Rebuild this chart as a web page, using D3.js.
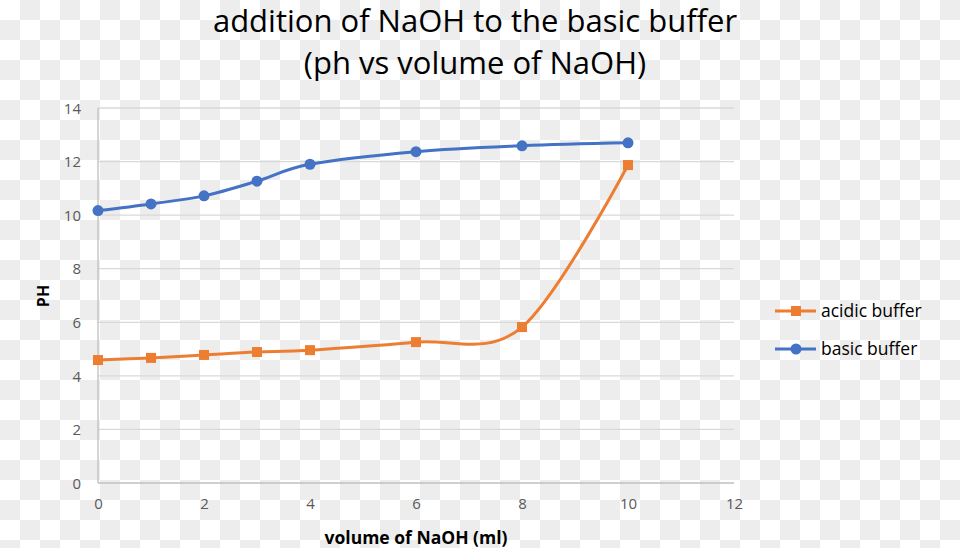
<!DOCTYPE html>
<html><head><meta charset="utf-8">
<script src="https://cdn.jsdelivr.net/npm/d3@7"></script>
<style>
body{margin:0;background-color:#ffffff;
background-image:conic-gradient(#ededed 0 25%, #ffffff 0 50%, #ededed 0 75%, #ffffff 0);
background-size:40px 40px;background-position:0 0;}
svg{display:block;}
</style>
</head><body>
<svg id="c" width="960" height="548"></svg>
<script>
const volumes = [0, 1, 2, 3, 4, 6, 8, 10];
const acidicBuffer = [4.59, 4.67, 4.78, 4.89, 4.96, 5.26, 5.82, 11.87];
const basicBuffer = [10.17, 10.42, 10.72, 11.27, 11.9, 12.37, 12.59, 12.7];
const xTicks = [0, 2, 4, 6, 8, 10, 12];
const yTicks = [0, 2, 4, 6, 8, 10, 12, 14];
const seriesNames = ["acidic buffer", "basic buffer"];
const colors = ["#ED7D31", "#4472C4"];

const W = 960, H = 548;
const svg = d3.select("#c");
const font = "'Open Sans', sans-serif";

const x = d3.scaleLinear().domain([0,12]).range([98,734]);
const y = d3.scaleLinear().domain([0,14]).range([483,108]);

// gridlines
svg.append("g").selectAll("line").data(yTicks.filter(d=>d>0)).join("line")
  .attr("x1",x(0)).attr("x2",x(12)).attr("y1",d=>y(d)).attr("y2",d=>y(d))
  .attr("stroke","#d9d9d9").attr("stroke-width",1.3);

// axes lines
svg.append("line").attr("x1",x(0)).attr("x2",x(12)).attr("y1",y(0)).attr("y2",y(0)).attr("stroke","#bfbfbf").attr("stroke-width",1.3);
svg.append("line").attr("x1",x(0)).attr("x2",x(0)).attr("y1",y(0)).attr("y2",y(14)).attr("stroke","#bfbfbf").attr("stroke-width",1.3);

// tick labels
const xa = d3.axisBottom(x).tickValues(xTicks).tickSize(0).tickPadding(0);
const gx = svg.append("g").attr("transform",`translate(0,${y(0)+17})`).call(xa);
gx.select(".domain").remove();
gx.selectAll("text").attr("font-family",font).attr("font-size",15).attr("fill","#595959").attr("dy","0.6em");

const ya = d3.axisLeft(y).tickValues(yTicks).tickSize(0).tickPadding(0);
const gy = svg.append("g").attr("transform",`translate(${x(0)-17},0)`).call(ya);
gy.select(".domain").remove();
gy.selectAll("text").attr("font-family",font).attr("font-size",15).attr("fill","#595959").attr("dy","0.35em");

// lines
const allSeries = [acidicBuffer, basicBuffer];
const line = d3.line().x((d,i)=>x(volumes[i])).y(d=>y(d)).curve(d3.curveCardinal.tension(0));
allSeries.forEach((s,k)=>{
  svg.append("path").attr("d",line(s)).attr("fill","none").attr("stroke",colors[k]).attr("stroke-width",3).attr("stroke-linecap","round");
});
// markers
svg.append("g").selectAll("rect").data(acidicBuffer).join("rect")
  .attr("x",(d,i)=>x(volumes[i])-5).attr("y",d=>y(d)-5).attr("width",10).attr("height",10).attr("fill",colors[0]);
svg.append("g").selectAll("circle").data(basicBuffer).join("circle")
  .attr("cx",(d,i)=>x(volumes[i])).attr("cy",d=>y(d)).attr("r",5.5).attr("fill",colors[1]);

// title
const t = svg.append("text").attr("text-anchor","middle").attr("font-family",font).attr("font-size",31).attr("fill","#000");
t.append("tspan").attr("x",475).attr("y",32).text("addition of NaOH to the basic buffer");
t.append("tspan").attr("x",475).attr("y",74).text("(ph vs volume of NaOH)");

// axis titles
svg.append("text").attr("x",416).attr("y",544).attr("text-anchor","middle").attr("font-family",font).attr("font-size",17.5).attr("font-weight","bold").text("volume of NaOH (ml)");
svg.append("text").attr("transform","translate(49,296) rotate(-90)").attr("text-anchor","middle").attr("font-family",font).attr("font-size",16).attr("font-weight","bold").text("PH");

// legend
const ly = [311, 349];
seriesNames.forEach((n,k)=>{
  const g = svg.append("g");
  g.append("line").attr("x1",775).attr("x2",816).attr("y1",ly[k]).attr("y2",ly[k]).attr("stroke",colors[k]).attr("stroke-width",3);
  if(k===0) g.append("rect").attr("x",791).attr("y",ly[k]-5).attr("width",10).attr("height",10).attr("fill",colors[k]);
  else g.append("circle").attr("cx",796).attr("cy",ly[k]).attr("r",5.5).attr("fill",colors[k]);
  g.append("text").attr("x",821).attr("y",ly[k]).attr("dy","0.35em").attr("font-family",font).attr("font-size",17.5).attr("fill","#000").text(n);
});
</script>
</body></html>
